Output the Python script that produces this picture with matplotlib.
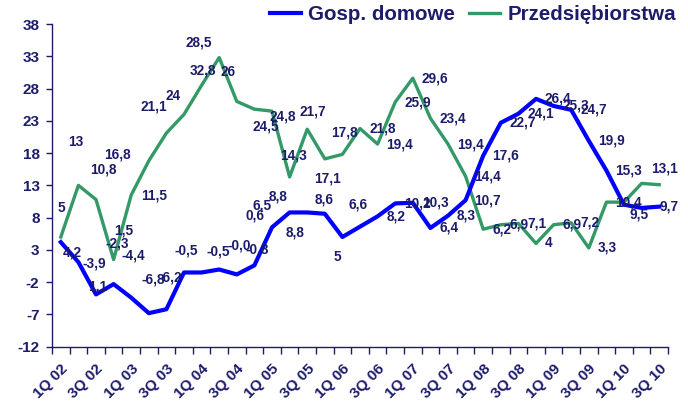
import matplotlib
matplotlib.use("Agg")
import matplotlib.pyplot as plt
from matplotlib.lines import Line2D

# ---- data ----
quarters = ["1Q 02", "2Q 02", "3Q 02", "4Q 02", "1Q 03", "2Q 03", "3Q 03", "4Q 03",
            "1Q 04", "2Q 04", "3Q 04", "4Q 04", "1Q 05", "2Q 05", "3Q 05", "4Q 05",
            "1Q 06", "2Q 06", "3Q 06", "4Q 06", "1Q 07", "2Q 07", "3Q 07", "4Q 07",
            "1Q 08", "2Q 08", "3Q 08", "4Q 08", "1Q 09", "2Q 09", "3Q 09", "4Q 09",
            "1Q 10", "2Q 10", "3Q 10"]
gosp_domowe = [4.2, 1.1, -3.9, -2.3, -4.4, -6.8, -6.2, -0.5, -0.5, -0.04, -0.8, 0.6,
               6.5, 8.8, 8.8, 8.6, 5, 6.6, 8.2, 10.2, 10.3, 6.4, 8.3, 10.7,
               17.6, 22.7, 24.1, 26.4, 25.3, 24.7, 19.9, 15.3, 10.0, 9.5, 9.7]
przedsiebiorstwa = [5, 13, 10.8, 1.5, 11.5, 16.8, 21.1, 24, 28.5, 32.8, 26, 24.8,
                    24.5, 14.3, 21.7, 17.1, 17.8, 21.8, 19.4, 25.9, 29.6, 23.4, 19.4, 14.4,
                    6.2, 6.9, 7.1, 4, 6.9, 7.2, 3.3, 10.4, 10.4, 13.3, 13.1]
series_names = ["Gosp. domowe", "Przedsiębiorstwa"]
y_ticks = list(range(-12, 39, 5))

# ---- label placement (pixel offsets of label centre; 'R' = right of point; None = hidden) ----
R = "R"
blue_lbl = [(11, 10), (19, 24), (-2, -31), (4, -41), (2, -42), (4, -34), (4, -32), (2, -22),
            (17, -21), (20, -24), (20, -25), (1, -50), (-10, -22), (-12, -16), (-12, 20), (-1, -14),
            (-5, 20), (-2, -22), R, R, R, R, R, R,
            R, R, R, R, R, R, R, R, None, (-3, 7), (10, 0)]
green_lbl = [(1, -29), (-3, -43), (7, -30), (10, -29), (23, 0), (-31, -6), (-13, -27), (-11, -18),
             (-3, -43), (-16, 13), (-9, -29), (28, 7), (-6, 15), (4, -21), (6, -18), (3, 20),
             (2, -22), R, R, R, R, R, R, R,
             R, R, R, R, R, R, R, R, None, None, (5, -16)]

NAVY = "#1c1c6a"
BLUE = "#0000ff"
GREEN = "#339966"
FONT = "Liberation Sans"

plt.rcParams["font.family"] = [FONT, "DejaVu Sans"]
plt.rcParams["font.weight"] = "bold"


def fmt(v):
    if abs(v - round(v)) < 1e-9:
        return str(int(round(v)))
    return f"{v:.1f}".replace(".", ",")


fig = plt.figure(figsize=(6.88, 4.04), dpi=100)
W, H = 688, 404
ax = fig.add_axes([52 / W, 1 - 346.7 / H, (668 - 52) / W, (346.7 - 24) / H])

x = list(range(len(quarters)))
ax.plot(x, przedsiebiorstwa, color=GREEN, lw=2.4, solid_joinstyle="round", zorder=3)
ax.plot(x, gosp_domowe, color=BLUE, lw=3.0, solid_joinstyle="round", zorder=4)

ax.set_xlim(-0.5, len(quarters) - 0.5)
ax.set_ylim(-12, 38)

# data labels
for vals, offs in ((przedsiebiorstwa, green_lbl), (gosp_domowe, blue_lbl)):
    for i, (v, o) in enumerate(zip(vals, offs)):
        if o is None:
            continue
        if o == R:
            ax.annotate(fmt(v), (i, v), xytext=(9, 0), textcoords="offset pixels",
                        ha="left", va="center", fontsize=9.8, color=NAVY,
                        fontweight="bold", zorder=5)
        else:
            ax.annotate(fmt(v), (i, v), xytext=(o[0], -o[1]), textcoords="offset pixels",
                        ha="center", va="center", fontsize=9.8, color=NAVY,
                        fontweight="bold", zorder=5)

# axes styling
for s in ("top", "right"):
    ax.spines[s].set_visible(False)
for s in ("left", "bottom"):
    ax.spines[s].set_color(NAVY)
    ax.spines[s].set_linewidth(1.0)

ax.set_yticks(y_ticks)
ax.set_yticklabels([str(t) for t in y_ticks])
ax.tick_params(axis="y", colors=NAVY, length=4, width=1, pad=5, labelsize=11,
               labelcolor=NAVY)

ax.set_xticks(x)
ax.set_xticklabels([q if i % 2 == 0 else "" for i, q in enumerate(quarters)],
                   rotation=45, ha="right", rotation_mode="anchor")
ax.tick_params(axis="x", which="major", length=0, pad=11, labelsize=11, labelcolor=NAVY)
ax.set_xticks([i - 0.5 for i in range(len(quarters) + 1)], minor=True)
ax.tick_params(axis="x", which="minor", length=5, width=1, colors=NAVY, direction="out")
for lab in ax.get_xticklabels() + ax.get_yticklabels():
    lab.set_fontweight("bold")

# legend
handles = [Line2D([], [], color=BLUE, lw=3.0), Line2D([], [], color=GREEN, lw=2.4)]
leg = fig.legend(handles, series_names, loc="center right",
                 bbox_to_anchor=(676 / W, 1 - 15 / H), ncol=2, frameon=False,
                 handlelength=1.5, handletextpad=0.35, columnspacing=0.7,
                 borderpad=0, borderaxespad=0,
                 prop={"family": FONT, "weight": "bold", "size": 14.8})
for t in leg.get_texts():
    t.set_color(NAVY)

fig.savefig("out.png", dpi=100)
